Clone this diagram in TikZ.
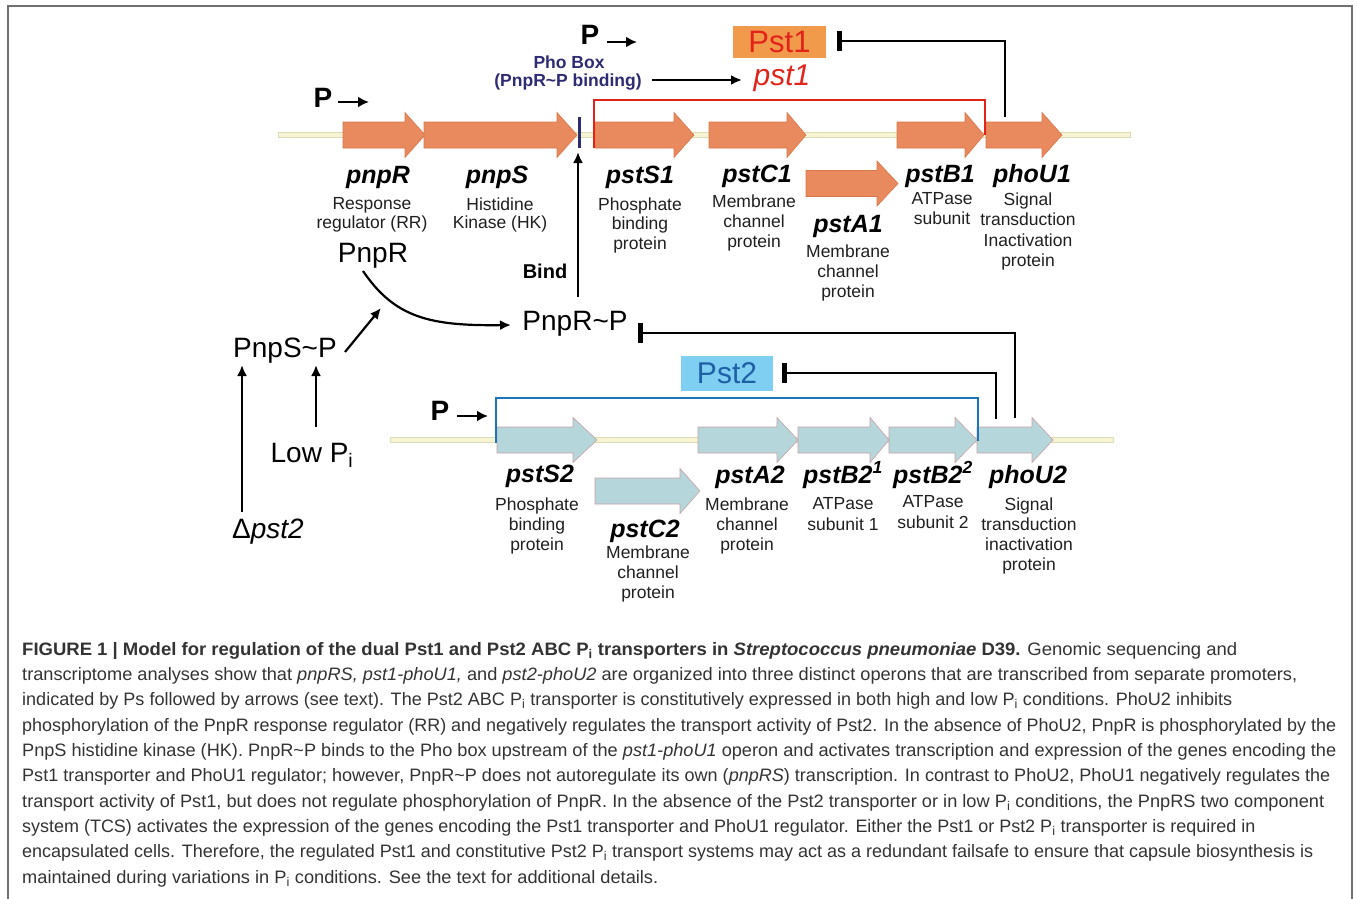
\documentclass[tikz,border=0pt]{standalone}
\usepackage{fontspec}
\usepackage{graphicx}
\setmainfont{Liberation Sans}
\usetikzlibrary{arrows.meta}
\definecolor{geneO}{HTML}{E98A5E}
\definecolor{geneOe}{HTML}{D7774A}
\definecolor{geneB}{HTML}{B5D7DC}
\definecolor{geneBe}{HTML}{C9A0A4}
\definecolor{bbfill}{HTML}{F6F4D4}
\definecolor{bbedge}{HTML}{DEDCB4}
\definecolor{pstonebox}{HTML}{F29A4C}
\definecolor{pstonered}{HTML}{E2231A}
\definecolor{psttwobox}{HTML}{7ECFF1}
\definecolor{psttwotxt}{HTML}{1F5FA6}
\definecolor{bluel}{HTML}{1B75BB}
\definecolor{navyc}{HTML}{2D2B73}
\definecolor{captxt}{HTML}{333333}
\definecolor{framec}{HTML}{707070}
\newcommand\fz[2]{\fontsize{#1}{#2}\selectfont}
\newcommand\Pisub{P\textsubscript{i}}
\newcommand\genearrow[6]{%
  \draw[#6] (#2,#5-13) -- (#3,#5-13) -- (#3,#5-22.5) -- (#4,#5) -- (#3,#5+22.5) -- (#3,#5+13) -- (#2,#5+13) -- cycle;
  \coordinate (#1) at (#2,#5);}
\tikzset{
  geneo/.style={fill=geneO, draw=geneOe, line width=0.6pt},
  geneb/.style={fill=geneB, draw=geneBe, line width=0.6pt},
  gname/.style={font=\fz{25}{28}\bfseries\itshape, anchor=base, inner sep=0pt},
  gdesc/.style={font=\fz{17.5}{20}, align=center, anchor=north, inner sep=0pt, text=black!88},
  lbl/.style={font=\fz{28}{32}, anchor=base, inner sep=0pt},
  plbl/.style={font=\fz{28}{32}\bfseries, anchor=base, inner sep=0pt},
  conn/.style={line width=2.2pt, -{Latex[length=11pt,width=10pt]}},
  pconn/.style={line width=2.8pt, -{Latex[length=11pt,width=11pt]}},
  inhib/.style={line width=2.2pt, -{Bar[width=20pt,line width=4.5pt]}},
  capline/.style={anchor=base west, inner sep=0pt, font=\fz{18}{22}, text=captxt},
}
\begin{document}
\begin{tikzpicture}[x=1pt,y=-1pt]
\useasboundingbox (0,0) rectangle (1357,899);
% frame
\draw[framec, line width=2pt] (7.5,899) -- (7.5,6.5) -- (1351.5,6.5) -- (1351.5,899);

% backbones
\draw[bbedge, fill=bbfill, line width=0.6pt] (278,132.5) rectangle (1130,137.5);
\draw[bbedge, fill=bbfill, line width=0.6pt] (390,437.5) rectangle (1113,442.5);

% top operon genes
\genearrow{gpnpR}{343}{405}{425}{135}{geneo}
\genearrow{gpnpS}{424}{557}{577}{135}{geneo}
\genearrow{gpstSa}{595}{674}{694}{135}{geneo}
\genearrow{gpstCa}{709}{787}{806}{135}{geneo}
\genearrow{gpstAa}{806}{877}{898}{183.5}{geneo}
\genearrow{gpstBa}{897}{965}{984}{135}{geneo}
\genearrow{gphoUa}{986}{1042}{1062}{135}{geneo}

% bottom operon genes
\genearrow{gpstSb}{497}{573}{597}{440}{geneb}
\genearrow{gpstCb}{595}{680}{700}{491}{geneb}
\genearrow{gpstAb}{698}{777}{798}{440}{geneb}
\genearrow{gpstBba}{798}{870}{889}{440}{geneb}
\genearrow{gpstBbb}{889}{955}{977}{440}{geneb}
\genearrow{gphoUb}{977}{1032}{1053}{440}{geneb}

% operon brackets
\draw[pstonered, line width=2.2pt] (594,148) -- (594,100) -- (985,100) -- (985,135);
\draw[bluel, line width=2.5pt] (496,443) -- (496,398) -- (978,398) -- (978,441);
% pho box
\draw[navyc, line width=3pt] (579,117) -- (579,148);

% promoter labels
\node[plbl] (ptop) at (590,45) {P};
\node[plbl] (pleft) at (323,107) {P};
\node[plbl] (pbot) at (440,420) {P};
\coordinate (ptopa) at (607,42); \coordinate (ptopb) at (637,42);
\coordinate (plefta) at (338,102); \coordinate (pleftb) at (369,102);
\coordinate (pbota) at (457,416); \coordinate (pbotb) at (488,416);
\draw[pconn] (ptopa) -- (ptopb);
\draw[pconn] (plefta) -- (pleftb);
\draw[pconn] (pbota) -- (pbotb);

% pho box label
\node[font=\fz{17.5}{20}\bfseries, text=navyc, anchor=base, inner sep=0pt] (phobox) at (569,68) {Pho Box};
\node[font=\fz{17.5}{20}\bfseries, text=navyc, anchor=base, inner sep=0pt] (phobind) at (568,86) {(PnpR\textasciitilde P binding)};
\node[font=\fz{30}{34}\itshape, text=pstonered, anchor=base, inner sep=0pt] (pstonet) at (782,85) {pst1};
\coordinate (phoarra) at (652,80); \coordinate (phoarrb) at (742,80);
\draw[conn] (phoarra) -- (phoarrb);

% Pst1 / Pst2 boxes
\node[fill=pstonebox, minimum width=93pt, minimum height=32pt, inner sep=0pt, text=pstonered, font=\fz{31}{34}] (pstone) at (779.5,42) {Pst1};
\node[fill=psttwobox, minimum width=92pt, minimum height=35pt, inner sep=0pt, text=psttwotxt, font=\fz{30}{34}] (psttwo) at (727,373.5) {Pst2};

% gene names top
\node[gname] (npnpR) at (378,183) {pnpR};
\node[gname] (npnpS) at (497,183) {pnpS};
\node[gname] (npstSa) at (640,183) {pstS1};
\node[gname] (npstCa) at (757,182) {pstC1};
\node[gname] (npstAa) at (848,232) {pstA1};
\node[gname] (npstBa) at (940,182) {pstB1};
\node[gname] (nphoUa) at (1032,182) {phoU1};
% descriptions top
\node[gdesc, font=\fz{17.5}{18.5}] (dpnpR) at (372,197.5) {Response\\regulator (RR)};
\node[gdesc, font=\fz{17.5}{18.5}] (dpnpS) at (500,197.5) {Histidine\\Kinase (HK)};
\node[gdesc, font=\fz{17.5}{19.5}] (dpstSa) at (640,197.5) {Phosphate\\binding\\protein};
\node[gdesc] (dpstCa) at (754,194.5) {Membrane\\channel\\protein};
\node[gdesc] (dpstAa) at (848,244.5) {Membrane\\channel\\protein};
\node[gdesc] (dpstBa) at (942,192.5) {ATPase\\subunit};
\node[gdesc, font=\fz{17.5}{20.5}] (dphoUa) at (1028,192.5) {Signal\\transduction\\Inactivation\\protein};

% gene names bottom
\node[gname] (npstSb) at (540,482) {pstS2};
\node[gname] (npstCb) at (645,537) {pstC2};
\node[gname] (npstAb) at (750,483) {pstA2};
\node[gname] (npstBba) at (843,483) {pstB2\textsuperscript{1}};
\node[gname] (npstBbb) at (933,483) {pstB2\textsuperscript{2}};
\node[gname] (nphoUb) at (1028,483) {phoU2};
% descriptions bottom
\node[gdesc] (dpstSb) at (537,497.5) {Phosphate\\binding\\protein};
\node[gdesc] (dpstCb) at (648,545.5) {Membrane\\channel\\protein};
\node[gdesc] (dpstAb) at (747,497.5) {Membrane\\channel\\protein};
\node[gdesc, font=\fz{17.5}{21}] (dpstBba) at (843,497.5) {ATPase\\subunit 1};
\node[gdesc, font=\fz{17.5}{21}] (dpstBbb) at (933,495.5) {ATPase\\subunit 2};
\node[gdesc] (dphoUb) at (1029,497.5) {Signal\\transduction\\inactivation\\protein};

% regulation labels
\node[lbl] (pnpr) at (373,262) {PnpR};
\node[font=\fz{20}{24}\bfseries, anchor=base, inner sep=0pt] (bind) at (545,278) {Bind};
\node[lbl] (pnprp) at (575,330) {PnpR\textasciitilde P};
\node[lbl] (pnpsp) at (285,357) {PnpS\textasciitilde P};
\node[lbl] (lowpi) at (312,462) {Low \Pisub};
\node[lbl] (dpst) at (268,538) {Δ\textit{pst2}};

% connectors
\coordinate (bindfrom) at (578,297); \coordinate (bindto) at (578,152);
\draw[conn] (bindfrom) -- (bindto);
\coordinate (curvefrom) at (363,271); \coordinate (curveto) at (511,325);
\draw[conn] (curvefrom) .. controls (395,318) and (430,326) .. (curveto);
\coordinate (spfrom) at (345,352); \coordinate (spto) at (381,308);
\draw[conn] (spfrom) -- (spto);
\coordinate (dfrom) at (242,512); \coordinate (dto) at (242,365);
\draw[conn] (dfrom) -- (dto);
\coordinate (lfrom) at (316,427); \coordinate (lto) at (316,365);
\draw[conn] (lfrom) -- (lto);

% inhibitions
\coordinate (ihaf) at (1005,117); \coordinate (ihat) at (837,41);
\draw[inhib] (ihaf) |- (ihat);
\coordinate (ihbf) at (1015,418); \coordinate (ihbt) at (638,333);
\draw[inhib] (ihbf) |- (ihbt);
\coordinate (ihcf) at (996,419); \coordinate (ihct) at (782,373);
\draw[inhib] (ihcf) |- (ihct);

% caption
\node[capline] (capa) at (22,655) {\resizebox{1215pt}{\height}{\textbf{FIGURE 1 | Model for regulation of the dual Pst1 and Pst2 ABC \Pisub{} transporters in \textit{Streptococcus pneumoniae} D39.} Genomic sequencing and}};
\node[capline] (capb) at (22,680.4) {\resizebox{1275pt}{\height}{transcriptome analyses show that \textit{pnpRS, pst1-phoU1,} and \textit{pst2-phoU2} are organized into three distinct operons that are transcribed from separate promoters,}};
\node[capline] (capc) at (22,705.7) {\resizebox{1210pt}{\height}{indicated by Ps followed by arrows (see text). The Pst2 ABC \Pisub{} transporter is constitutively expressed in both high and low \Pisub{} conditions. PhoU2 inhibits}};
\node[capline] (capd) at (22,731.1) {\resizebox{1314pt}{\height}{phosphorylation of the PnpR response regulator (RR) and negatively regulates the transport activity of Pst2. In the absence of PhoU2, PnpR is phosphorylated by the}};
\node[capline] (cape) at (22,756.4) {\resizebox{1314pt}{\height}{PnpS histidine kinase (HK). PnpR\textasciitilde P binds to the Pho box upstream of the \textit{pst1-phoU1} operon and activates transcription and expression of the genes encoding the}};
\node[capline] (capf) at (22,781.8) {\resizebox{1308pt}{\height}{Pst1 transporter and PhoU1 regulator; however, PnpR\textasciitilde P does not autoregulate its own (\textit{pnpRS}) transcription. In contrast to PhoU2, PhoU1 negatively regulates the}};
\node[capline] (capg) at (22,807.1) {\resizebox{1302pt}{\height}{transport activity of Pst1, but does not regulate phosphorylation of PnpR. In the absence of the Pst2 transporter or in low \Pisub{} conditions, the PnpRS two component}};
\node[capline] (caph) at (22,832.5) {\resizebox{1233pt}{\height}{system (TCS) activates the expression of the genes encoding the Pst1 transporter and PhoU1 regulator. Either the Pst1 or Pst2 \Pisub{} transporter is required in}};
\node[capline] (capi) at (22,857.8) {\resizebox{1291pt}{\height}{encapsulated cells. Therefore, the regulated Pst1 and constitutive Pst2 \Pisub{} transport systems may act as a redundant failsafe to ensure that capsule biosynthesis is}};
\node[capline] (capj) at (22,883.2) {\resizebox{636pt}{\height}{maintained during variations in \Pisub{} conditions. See the text for additional details.}};
\end{tikzpicture}
\end{document}
